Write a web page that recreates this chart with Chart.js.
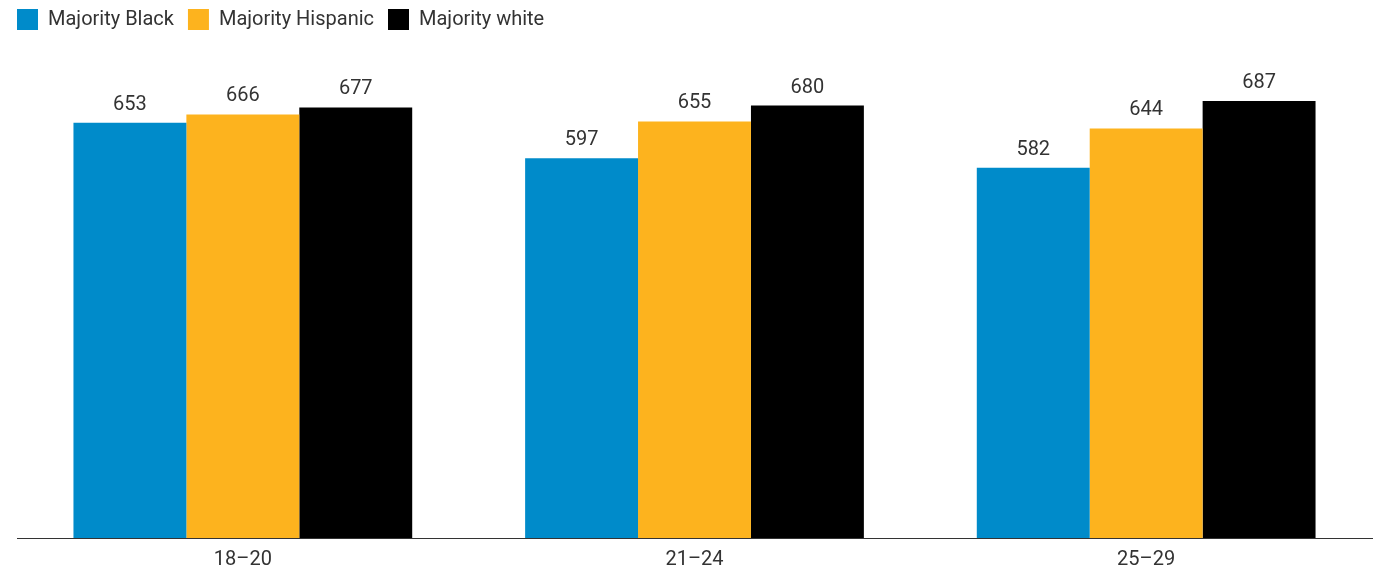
<!DOCTYPE html>
<html>
<head>
<meta charset="utf-8">
<script src="https://cdn.jsdelivr.net/npm/chart.js@4.4.1/dist/chart.umd.min.js"></script>
<style>
  html, body { margin: 0; padding: 0; background: #fff; }
  #wrap { width: 1373px; height: 570px; position: relative; }
</style>
</head>
<body>
<div id="wrap"><canvas id="chart"></canvas></div>
<script>
// age groups and series values
const ageGroups = ["18\u201320", "21\u201324", "25\u201329"];
const majorityBlack = [653, 597, 582];
const majorityHispanic = [666, 655, 644];
const majorityWhite = [677, 680, 687];

const seriesNames = ["Majority Black", "Majority Hispanic", "Majority white"];
const seriesColors = ["#008bca", "#fdb31e", "#000000"];

// value label above each bar
const barValueLabels = {
    id: "barValueLabels",
    afterDatasetsDraw: (chart) => {
        const ctx = chart.ctx;
        ctx.save();
        ctx.font = "20px Roboto";
        ctx.fillStyle = "#333333";
        ctx.textAlign = "center";
        ctx.textBaseline = "alphabetic";
        chart.data.datasets.forEach((ds, i) => {
            const meta = chart.getDatasetMeta(i);
            meta.data.forEach((bar, j) => {
                ctx.fillText(ds.data[j], bar.x, bar.y - 13);
            });
        });
        ctx.restore();
    },
};

const ctx = document.getElementById("chart").getContext("2d");
new Chart(ctx, {
    type: "bar",
    data: {
        labels: ageGroups,
        datasets: [
            { label: seriesNames[0], data: majorityBlack, backgroundColor: seriesColors[0] },
            { label: seriesNames[1], data: majorityHispanic, backgroundColor: seriesColors[1] },
            { label: seriesNames[2], data: majorityWhite, backgroundColor: seriesColors[2] },
        ],
    },
    options: {
        responsive: true,
        maintainAspectRatio: false,
        animation: false,
        layout: { padding: { left: 3, right: 1, top: -5, bottom: 0 } },
        datasets: {
            bar: { categoryPercentage: 0.75, barPercentage: 1.0 },
        },
        plugins: {
            legend: {
                position: "top",
                align: "start",
                labels: {
                    boxWidth: 21,
                    boxHeight: 21,
                    padding: 14,
                    color: "#333333",
                    font: { family: "Roboto", size: 20 },
                },
            },
            tooltip: { enabled: false },
        },
        scales: {
            x: {
                grid: { display: false },
                border: { display: true, color: "#333333", width: 1 },
                ticks: {
                    color: "#333333",
                    padding: 2,
                    font: { family: "Roboto", size: 20 },
                },
                afterFit: (axis) => { axis.height = 32; },
            },
            y: {
                min: 0,
                max: 783,
                grid: { display: false },
                border: { display: false },
                ticks: { display: false },
                afterFit: (axis) => { axis.width = 14; },
            },
        },
    },
    plugins: [barValueLabels],
});
</script>
</body>
</html>
